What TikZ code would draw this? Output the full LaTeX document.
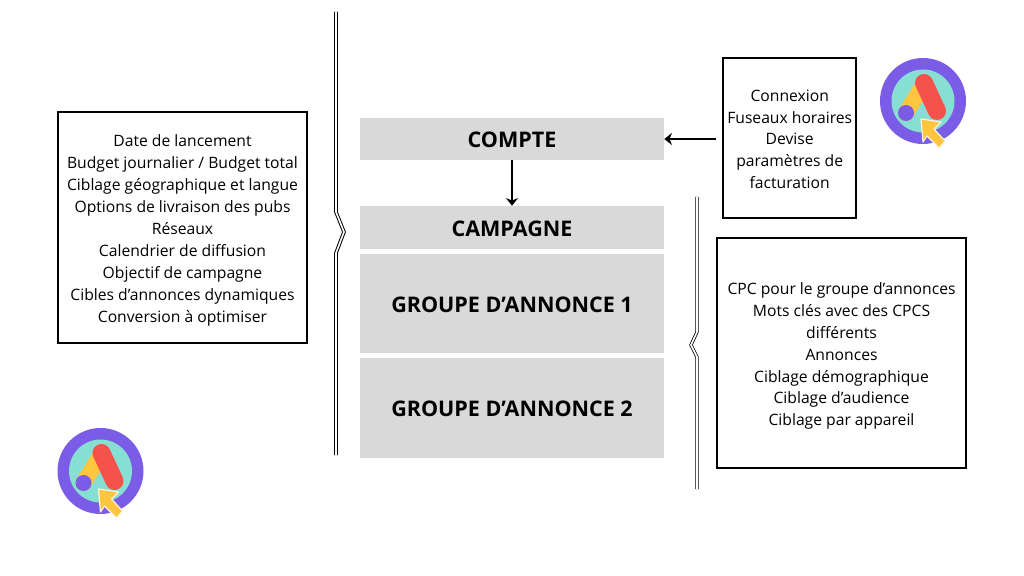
\documentclass[tikz,border=0pt]{standalone}
\usepackage{fontspec}
\setmainfont{Open Sans}
\usepackage{tikz}
\usetikzlibrary{arrows.meta}
\definecolor{boxgrey}{HTML}{D9D9D9}
\definecolor{iconpurple}{HTML}{7A5CE6}
\definecolor{iconaqua}{HTML}{86DFD2}
\definecolor{iconyellow}{HTML}{FFC53F}
\definecolor{iconred}{HTML}{F5524C}
\newcommand{\textdrop}[1]{\rule{0pt}{#1}}
\tikzstyle{greybox} = [rectangle, fill=boxgrey, minimum width=7.6cm, inner sep=0pt, text centered, font=\fontsize{15.3}{18}\selectfont\bfseries]
\tikzstyle{listbox} = [rectangle, draw=black, line width=0.05cm, inner sep=0pt, align=center, font=\fontsize{11.15}{15.6}\selectfont]
\tikzstyle{arrow} = [line width=0.05cm,->,>={Stealth[length=0.19cm,width=0.3cm,inset=0.06cm]}]
\tikzstyle{bracket} = [double=white, double distance=0.04cm, line width=0.025cm, line join=miter]
\tikzset{
  adsicon/.pic={
    \fill [iconpurple] (0,0) circle (43);
    \fill [iconaqua] (0,0) circle (31.5);
    \draw [iconyellow, line width=0.4cm, line cap=round] (1,-17) -- (-17,12);
    \draw [iconred, line width=0.45cm, line cap=round] (1,-18) -- (14,10);
    \fill [iconpurple] (-17,12) circle (8);
    \draw [fill=iconyellow, draw=white!80!iconyellow, line width=0.03cm, line join=round] (-2,18) -- (18,21) -- (11,28) -- (22,40) -- (16,47) -- (4,35) -- (0,41) -- cycle;
  }
}

\begin{document}
\begin{tikzpicture}[x=0.025cm, y=-0.025cm]
\useasboundingbox (0,0) rectangle (1024,576);

\node (compte) [greybox, minimum height=1.05cm] at (512,139) {\textdrop{12.4pt}COMPTE};
\node (campagne) [greybox, minimum height=1.075cm] at (512,227.5) {\textdrop{12.4pt}CAMPAGNE};
\node (groupe1) [greybox, minimum height=2.475cm] at (512,303.5) {\textdrop{12.4pt}GROUPE D’ANNONCE 1};
\node (groupe2) [greybox, minimum height=2.5cm] at (512,408) {\textdrop{12.4pt}GROUPE D’ANNONCE 2};

\node (campaignlist) [listbox, minimum width=6.2cm, minimum height=5.75cm] at (182.5,227.5) {\textdrop{12.4pt}Date de lancement\\Budget journalier / Budget total\\Ciblage géographique et langue\\Options de livraison des pubs\\Réseaux\\Calendrier de diffusion\\Objectif de campagne\\Cibles d’annonces dynamiques\\Conversion à optimiser};
\node (accountlist) [listbox, minimum width=3.325cm, minimum height=4cm] at (789.7,138) {\textdrop{10pt}Connexion\\Fuseaux horaires\\Devise\\paramètres de\\facturation};
\node (grouplist) [listbox, minimum width=6.2cm, minimum height=5.75cm] at (841.5,353) {\textdrop{12.8pt}CPC pour le groupe d’annonces\\Mots clés avec des CPCS\\différents\\Annonces\\Ciblage démographique\\Ciblage d’audience\\Ciblage par appareil};

\coordinate (leftbracetop) at (336,12);
\coordinate (leftbracebottom) at (336,455);
\coordinate (rightbracetop) at (697,197);
\coordinate (rightbracebottom) at (697,489);

% Arrows
\draw [arrow, shorten <=0.15cm] (accountlist.west |- compte.east) -- (compte.east);
\draw [arrow] (compte) -- (campagne);

% Brackets
\draw [bracket] (leftbracetop) -- (336,212) -- (344,232) -- (336,253) -- (leftbracebottom);
\draw [bracket, line width=0.02cm] (rightbracetop) -- (697,332) -- (691,345) -- (697,357) -- (rightbracebottom);

% Icons
\pic at (923,101) {adsicon};
\pic at (100.5,471) {adsicon};

\end{tikzpicture}
\end{document}
